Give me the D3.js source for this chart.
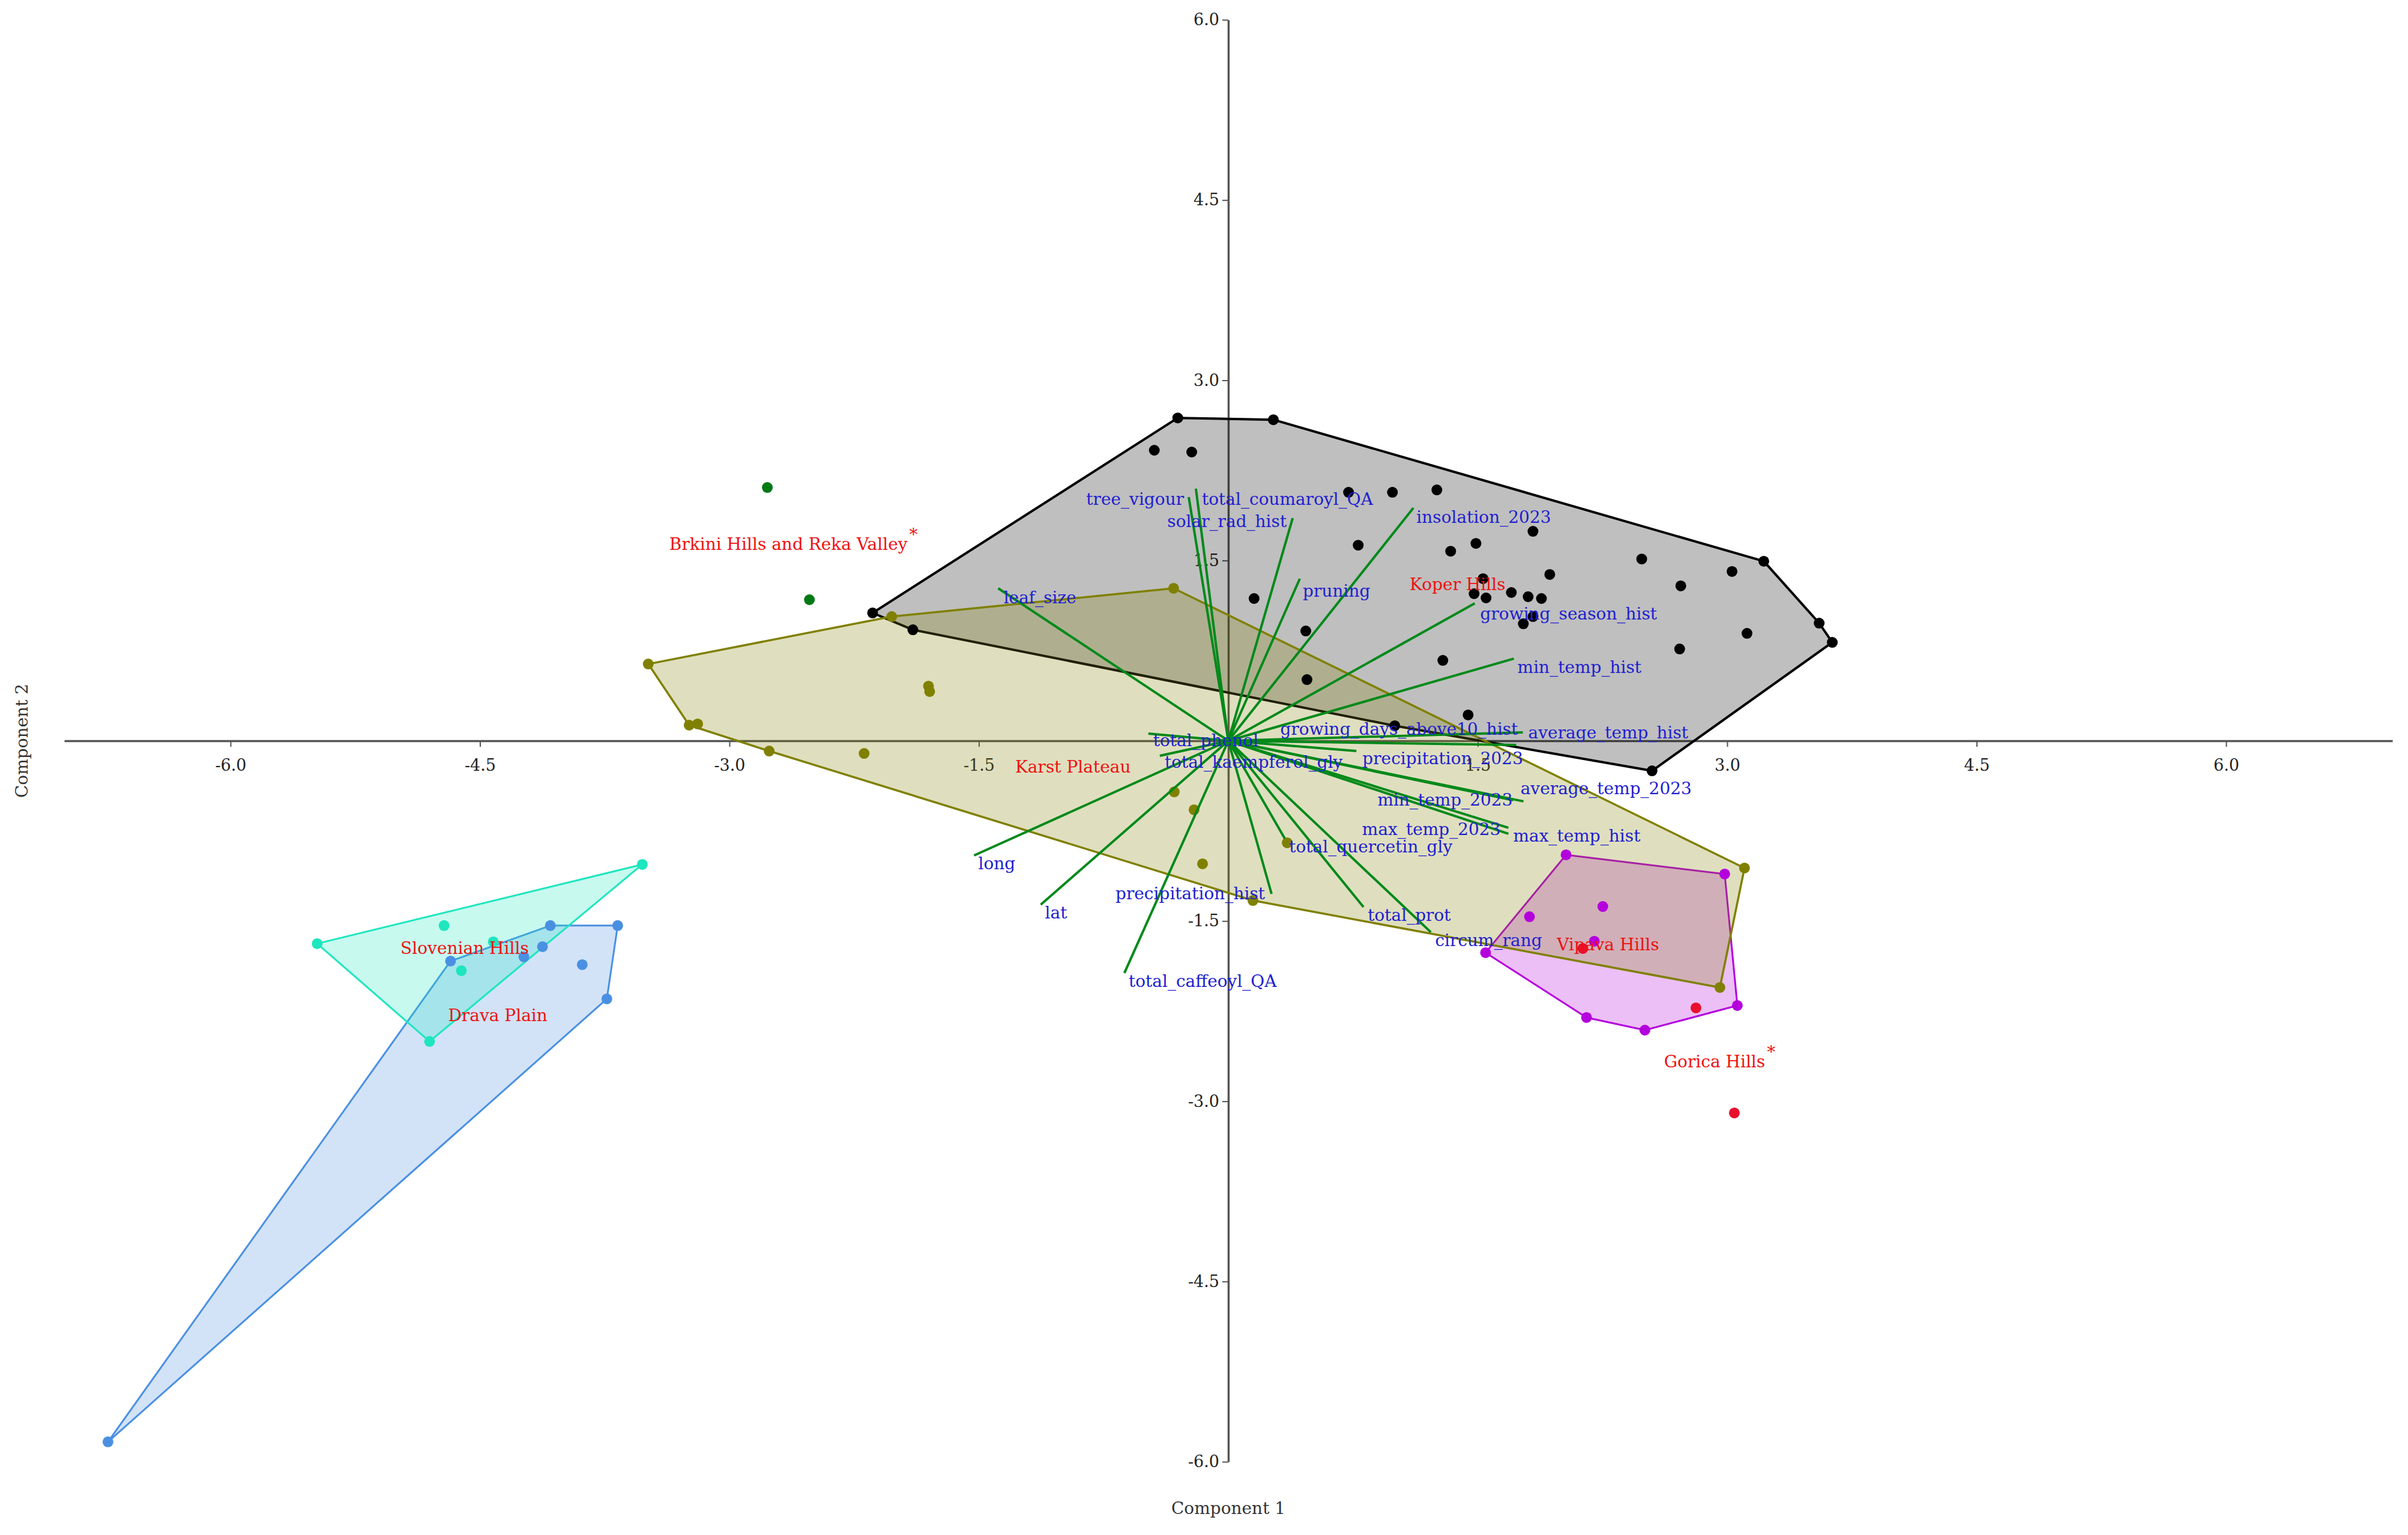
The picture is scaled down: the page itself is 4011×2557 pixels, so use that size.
<!DOCTYPE html>
<html>
<head>
<meta charset="utf-8">
<script src="https://cdn.jsdelivr.net/npm/d3@7"></script>
<style>
    body { margin: 0; background: #fff; }
</style>
</head>
<body>
<div class="chart"></div>
<script>
const w = 4011;
const h = 2557;

// group scores, [Component 1, Component 2]
const koperHills = [
    [-0.304, 2.687], [0.271, 2.672], [-0.445, 2.418], [-0.22, 2.403], [0.723, 2.068],
    [0.781, 1.628], [0.155, 1.184], [0.466, 0.914], [0.473, 0.509], [-2.139, 1.064],
    [-1.897, 0.924], [0.987, 2.068], [1.254, 2.088], [1.832, 1.743], [1.337, 1.578],
    [1.489, 1.643], [2.486, 1.513], [3.22, 1.494], [3.029, 1.409], [1.933, 1.384],
    [2.721, 1.289], [1.532, 1.349], [1.478, 1.224], [1.55, 1.189], [1.702, 1.234],
    [1.803, 1.199], [1.883, 1.184], [1.832, 1.034], [1.774, 0.974], [3.553, 0.979],
    [3.632, 0.819], [3.119, 0.894], [2.714, 0.764], [1.29, 0.669], [1.442, 0.215],
    [1.001, 0.125], [2.548, -0.25]
];
const karstPlateau = [
    [-0.329, 1.269], [-2.024, 1.034], [-3.488, 0.639], [-1.803, 0.455], [-1.796, 0.41],
    [-3.242, 0.13], [-3.191, 0.14], [-2.761, -0.085], [-2.19, -0.105], [-0.325, -0.425],
    [-0.206, -0.574], [0.354, -0.849], [-0.155, -1.024], [0.148, -1.329], [3.104, -1.059],
    [2.956, -2.053]
];
const brkiniHills = [[-2.772, 2.108], [-2.519, 1.174]];
const vipavaHills = [
    [2.031, -0.949], [2.985, -1.109], [3.061, -2.203], [2.505, -2.408], [2.154, -2.303],
    [1.547, -1.763], [1.811, -1.464], [2.252, -1.379], [2.201, -1.668]
];
const goricaHills = [[2.132, -1.728], [2.812, -2.223], [3.043, -3.097]];
const slovenianHills = [
    [-3.524, -1.029], [-5.479, -1.688], [-4.716, -1.538], [-4.42, -1.673], [-4.612, -1.913],
    [-4.803, -2.502]
];
const dravaPlain = [
    [-4.077, -1.538], [-3.672, -1.538], [-4.124, -1.713], [-4.236, -1.798], [-4.677, -1.833],
    [-3.885, -1.863], [-3.737, -2.148], [-6.737, -5.834]
];

// variable loadings (biplot vectors)
const loadingNames = [
    "leaf_size", "tree_vigour", "total_coumaroyl_QA", "solar_rad_hist", "pruning",
    "insolation_2023", "growing_season_hist", "min_temp_hist", "average_temp_hist",
    "growing_days_above10_hist", "precipitation_2023", "average_temp_2023", "min_temp_2023",
    "max_temp_2023", "max_temp_hist", "total_quercetin_gly", "total_prot", "circum_rang",
    "precipitation_hist", "total_caffeoyl_QA", "lat", "long", "total_kaempferol_gly", "total_phenol"
];
const loadingC1 = [
    -1.384, -0.238, -0.195, 0.387, 0.43, 1.113, 1.482, 1.717, 1.771, 1.731, 0.77, 1.775,
    1.713, 1.684, 1.684, 0.34, 0.813, 1.218, 0.26, -0.625, -1.128, -1.529, -0.412, -0.481
];
const loadingC2 = [
    1.269, 2.028, 2.098, 1.853, 1.349, 1.938, 1.144, 0.684, 0.07, -0.035, -0.085, -0.504,
    -0.495, -0.724, -0.774, -0.814, -1.384, -1.593, -1.274, -1.933, -1.364, -0.954, -0.125, 0.06
];

const xTicks = [-6, -4.5, -3, -1.5, 1.5, 3, 4.5, 6];
const yTicks = [-6, -4.5, -3, -1.5, 1.5, 3, 4.5, 6];

// drawing style per group (drawing order = hull order)
const groups = [
    { name: "Koper Hills", points: koperHills, color: "#000000", hull: true, width: 4 },
    { name: "Vipava Hills", points: vipavaHills, color: "#b400dc", hull: true, width: 3 },
    { name: "Karst Plateau", points: karstPlateau, color: "#808000", hull: true, width: 3.5 },
    { name: "Drava Plain", points: dravaPlain, color: "#4a90e2", hull: true, width: 3 },
    { name: "Slovenian Hills", points: slovenianHills, color: "#1ee6be", hull: true, width: 3 },
    { name: "Brkini Hills and Reka Valley", points: brkiniHills, color: "#007a14", hull: false, star: true },
    { name: "Gorica Hills", points: goricaHills, color: "#e8102e", hull: false, star: true, labelAt: [2.924, -2.667] }
];

// label placement next to vector tips: [anchor, dx, dy]
const labelNudge = {
    leaf_size: ["start", 9, 25],
    tree_vigour: ["end", -8, 13],
    total_coumaroyl_QA: ["start", 10, 27],
    solar_rad_hist: ["end", -10, 15],
    pruning: ["start", 5, 30],
    insolation_2023: ["start", 5, 25],
    growing_season_hist: ["start", 9, 27],
    min_temp_hist: ["start", 6, 24],
    average_temp_hist: ["start", 9, 10],
    growing_days_above10_hist: ["end", 3, -17],
    precipitation_2023: ["start", 10, 22],
    average_temp_2023: ["start", -5, -12],
    min_temp_2023: ["end", -1, 9],
    max_temp_2023: ["end", -13, 12],
    max_temp_hist: ["start", 8, 13],
    precipitation_hist: ["end", -11, 9],
    total_kaempferol_gly: ["start", 8, 20],
    total_phenol: ["start", 8, 21]
};

const font = "'DejaVu Serif', serif";

const svg = d3
    .select(".chart")
    .append("svg")
    .attr("width", w)
    .attr("height", h)
    .style("display", "block");

const xScale = d3.scaleLinear().domain([-7, 7]).range([107, 3985]);
const yScale = d3.scaleLinear().domain([-6, 6]).range([2435, 33]);

const fmt = (d) => d.toFixed(1);

// axes through the origin
const xAxis = svg
    .append("g")
    .attr("transform", `translate(0,${yScale(0)})`)
    .call(
        d3.axisBottom(xScale).tickValues(xTicks).tickSize(10).tickSizeOuter(0)
            .tickPadding(21).tickFormat(fmt)
    );

const yAxis = svg
    .append("g")
    .attr("transform", `translate(${xScale(0)},0)`)
    .call(
        d3.axisLeft(yScale).tickValues(yTicks).tickSize(10).tickSizeOuter(0)
            .tickPadding(5).tickFormat(fmt)
    );

[xAxis, yAxis].forEach((g) => {
    g.attr("font-family", font).attr("font-size", 27);
    g.select(".domain").attr("stroke", "#555").attr("stroke-width", 3.5);
    g.selectAll(".tick line").attr("stroke", "#555").attr("stroke-width", 2);
    g.selectAll(".tick text").attr("fill", "#222");
});

// axis titles
svg.append("text")
    .attr("x", xScale(0))
    .attr("y", 2522)
    .attr("text-anchor", "middle")
    .attr("font-family", font)
    .attr("font-size", 28)
    .attr("fill", "#333")
    .text("Component 1");

svg.append("text")
    .attr("transform", `translate(46,${yScale(0)}) rotate(-90)`)
    .attr("text-anchor", "middle")
    .attr("font-family", font)
    .attr("font-size", 28)
    .attr("fill", "#333")
    .text("Component 2");

// convex hulls
const toPx = (p) => [xScale(p[0]), yScale(p[1])];

svg.append("g")
    .selectAll("path")
    .data(groups.filter((g) => g.hull))
    .join("path")
    .attr("d", (g) => "M" + d3.polygonHull(g.points.map(toPx)).join("L") + "Z")
    .attr("fill", (g) => g.color)
    .attr("fill-opacity", 0.25)
    .attr("stroke", (g) => g.color)
    .attr("stroke-width", (g) => g.width)
    .attr("stroke-linejoin", "round");

// score points
svg.append("g")
    .selectAll("g")
    .data(groups)
    .join("g")
    .attr("fill", (g) => g.color)
    .selectAll("circle")
    .data((g) => g.points)
    .join("circle")
    .attr("cx", (d) => xScale(d[0]))
    .attr("cy", (d) => yScale(d[1]))
    .attr("r", 9);

// loading vectors
const loadings = loadingNames.map((name, i) => ({
    name,
    c1: loadingC1[i],
    c2: loadingC2[i],
}));

svg.append("g")
    .selectAll("line")
    .data(loadings)
    .join("line")
    .attr("x1", xScale(0))
    .attr("y1", yScale(0))
    .attr("x2", (d) => xScale(d.c1))
    .attr("y2", (d) => yScale(d.c2))
    .attr("stroke", "#00891a")
    .attr("stroke-width", 4);

svg.append("g")
    .attr("font-family", font)
    .attr("font-size", 28)
    .attr("fill", "#2020d0")
    .selectAll("text")
    .data(loadings)
    .join("text")
    .each(function (d) {
        const [anchor, dx, dy] = labelNudge[d.name] || ["start", 7, 23];
        d3.select(this)
            .attr("x", xScale(d.c1) + dx)
            .attr("y", yScale(d.c2) + dy)
            .attr("text-anchor", anchor)
            .text(d.name);
    });

// group names at the group mean
const nameLayer = svg
    .append("g")
    .attr("font-family", font)
    .attr("font-size", 28)
    .attr("fill", "#ee1111");

groups.forEach((g) => {
    const at = g.labelAt || [d3.mean(g.points, (p) => p[0]), d3.mean(g.points, (p) => p[1])];
    const t = nameLayer
        .append("text")
        .attr("x", xScale(at[0]))
        .attr("y", yScale(at[1]) + 10)
        .attr("text-anchor", "middle")
        .text(g.name);
    if (g.star) {
        const len = t.node().getComputedTextLength();
        nameLayer
            .append("text")
            .attr("x", xScale(at[0]) + len / 2 + 3)
            .attr("y", yScale(at[1]) - 6)
            .text("*");
    }
});
</script>
</body>
</html>
